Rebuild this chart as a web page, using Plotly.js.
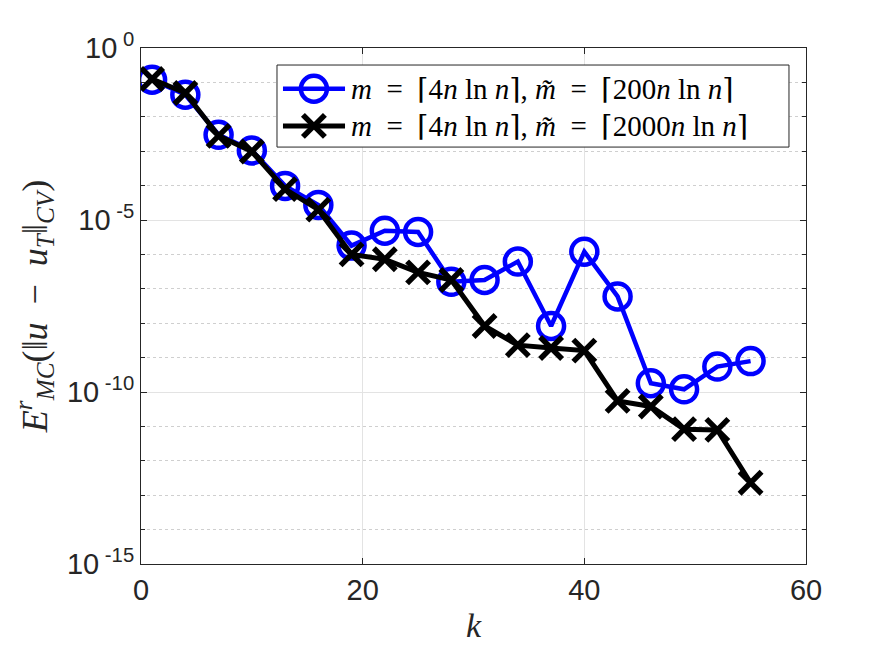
<!DOCTYPE html>
<html>
<head>
<meta charset="utf-8">
<script src="https://cdn.plot.ly/plotly-3.0.1.min.js"></script>
<style>
  html, body { margin: 0; padding: 0; background: #fff; }
  #chart { width: 892px; height: 657px; }
</style>
</head>
<body>
<div id="chart"></div>
<script>
// Truncation level k
const k = [1, 4, 7, 10, 13, 16, 19, 22, 25, 28, 31, 34, 37, 40, 43, 46, 49, 52, 55];

// Monte Carlo error estimate, m~ = ceil(200 n ln n)
const err200 = [0.120, 0.0437, 3.0e-3, 1.05e-3, 9.8e-5, 2.75e-5, 1.8e-6, 4.9e-6, 4.5e-6,
                1.6e-7, 1.8e-7, 6.2e-7, 8.3e-9, 1.2e-6, 6.0e-8, 1.8e-10, 1.2e-10, 5.5e-10, 7.9e-10];

// Monte Carlo error estimate, m~ = ceil(2000 n ln n)
const err2000 = [0.126, 0.049, 2.8e-3, 9.8e-4, 7.9e-5, 2.0e-5, 1.0e-6, 7.2e-7, 3.0e-7,
                 1.8e-7, 8.3e-9, 2.3e-9, 1.9e-9, 1.6e-9, 5.5e-11, 3.8e-11, 8.3e-12, 7.9e-12, 2.3e-13];

const EQ = '\u2002=\u2002';
const seriesNames = [
  '<i>m</i>' + EQ + '⌈4<i>n</i> ln <i>n</i>⌉, <i>m̃</i>' + EQ + '⌈200<i>n</i> ln <i>n</i>⌉',
  '<i>m</i>' + EQ + '⌈4<i>n</i> ln <i>n</i>⌉, <i>m̃</i>' + EQ + '⌈2000<i>n</i> ln <i>n</i>⌉'
];

const xTicks = [0, 20, 40, 60];
const yTickVals = [1, 1e-5, 1e-10, 1e-15];
const yTickText = ['10<sup> 0</sup>', '10<sup> -5</sup>', '10<sup> -10</sup>', '10<sup> -15</sup>'];
const yMinorVals = [];
for (let e = -1; e > -15; e--) if (e % 5 !== 0) yMinorVals.push(Math.pow(10, e));

const axisColor = '#262626';
const serif = 'Liberation Serif, DejaVu Serif, serif';
const sans = 'Liberation Sans, Arial, sans-serif';

const traces = [
  {
    x: k, y: err200, name: seriesNames[0], type: 'scatter', mode: 'lines+markers',
    line: { color: '#0000ff', width: 4.5 },
    marker: { symbol: 'circle-open', size: 26, color: '#0000ff', line: { width: 4.5, color: '#0000ff' } },
    showlegend: false
  },
  {
    x: k, y: err2000, name: seriesNames[1], type: 'scatter', mode: 'lines+markers',
    line: { color: '#000000', width: 5 },
    marker: { symbol: 'x-thin-open', size: 22, color: '#000000', line: { width: 5.5, color: '#000000' } },
    showlegend: false
  }
];

// Legend drawn as a framed key in the upper right of the axes
const legBox = { x0: 0.2045, x1: 0.9744, y0: 0.808, y1: 0.967 };
const rowY = [0.921, 0.849];
const keyX0 = 0.2135, keyX1 = 0.3068, keyXc = 0.260, textX = 0.3128;

const shapes = [
  { type: 'rect', xref: 'paper', yref: 'paper', x0: legBox.x0, x1: legBox.x1, y0: legBox.y0, y1: legBox.y1,
    line: { color: axisColor, width: 1 }, fillcolor: '#ffffff', layer: 'above' },
  // key for first series
  { type: 'line', xref: 'paper', yref: 'paper', x0: keyX0, x1: keyX1, y0: rowY[0], y1: rowY[0],
    line: { color: '#0000ff', width: 4.5 }, layer: 'above' },
  { type: 'circle', xref: 'paper', yref: 'paper', xsizemode: 'pixel', ysizemode: 'pixel',
    xanchor: keyXc, yanchor: rowY[0], x0: -13, x1: 13, y0: -13, y1: 13,
    line: { color: '#0000ff', width: 4.5 }, fillcolor: 'rgba(0,0,0,0)', layer: 'above' },
  // key for second series
  { type: 'line', xref: 'paper', yref: 'paper', x0: keyX0, x1: keyX1, y0: rowY[1], y1: rowY[1],
    line: { color: '#000000', width: 5 }, layer: 'above' },
  { type: 'line', xref: 'paper', yref: 'paper', xsizemode: 'pixel', ysizemode: 'pixel',
    xanchor: keyXc, yanchor: rowY[1], x0: -11, x1: 11, y0: -11, y1: 11,
    line: { color: '#000000', width: 5.5 }, layer: 'above' },
  { type: 'line', xref: 'paper', yref: 'paper', xsizemode: 'pixel', ysizemode: 'pixel',
    xanchor: keyXc, yanchor: rowY[1], x0: -11, x1: 11, y0: 11, y1: -11,
    line: { color: '#000000', width: 5.5 }, layer: 'above' }
];

const annotations = seriesNames.map((t, i) => ({
  xref: 'paper', yref: 'paper', x: textX, y: rowY[i], xanchor: 'left', yanchor: 'middle',
  text: t, showarrow: false, font: { family: serif, size: 29, color: '#000000' }
}));

const layout = {
  width: 892, height: 657,
  margin: { l: 141, r: 86, t: 48, b: 93, pad: 0 },
  paper_bgcolor: '#ffffff', plot_bgcolor: '#ffffff',
  showlegend: false,
  xaxis: {
    range: [0, 60], tickvals: xTicks, ticks: 'inside', ticklen: 6, tickcolor: axisColor,
    showline: true, linecolor: axisColor, linewidth: 1, mirror: 'ticks', zeroline: false,
    showgrid: true, gridcolor: '#e3e3e3', gridwidth: 1,
    tickfont: { family: sans, size: 29, color: axisColor },
    title: { text: '<i>k</i>', font: { family: serif, size: 34, color: axisColor }, standoff: 8 }
  },
  yaxis: {
    type: 'log', range: [-15, 0], tickvals: yTickVals, ticktext: yTickText,
    ticks: 'inside', ticklen: 6, tickcolor: axisColor,
    showline: true, linecolor: axisColor, linewidth: 1, mirror: 'ticks', zeroline: false,
    showgrid: true, gridcolor: '#e3e3e3', gridwidth: 1,
    minor: { tickvals: yMinorVals, ticks: 'inside', ticklen: 4, tickcolor: axisColor,
             showgrid: true, gridcolor: '#cfcfcf', griddash: 'dot', gridwidth: 1 },
    tickfont: { family: sans, size: 29, color: axisColor },
    title: {
      text: '<i>E</i><sup><i>r</i></sup><sub><i>MC</i></sub>(‖<i>u</i>\u2002−\u2002<i>u</i><sub><i>T</i></sub>‖<sub><i>CV</i></sub>)',
      font: { family: serif, size: 36, color: axisColor }, standoff: 8
    }
  },
  shapes: shapes,
  annotations: annotations
};

Plotly.newPlot('chart', traces, layout, { displayModeBar: false, staticPlot: true });
</script>
</body>
</html>
